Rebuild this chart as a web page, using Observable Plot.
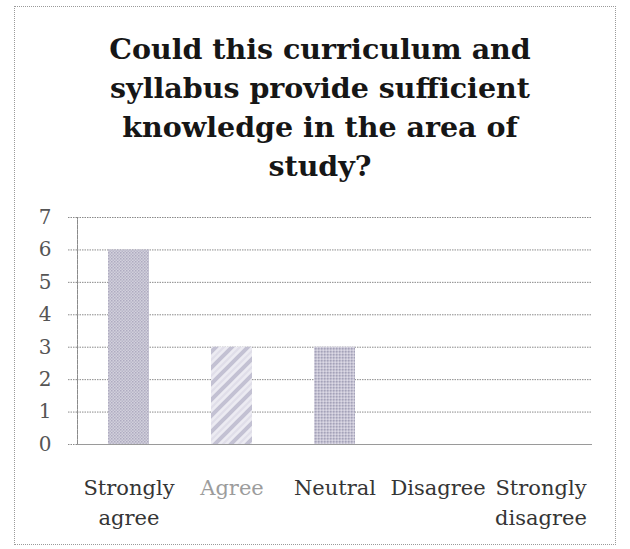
<!DOCTYPE html>
<html>
<head>
<meta charset="utf-8">
<script src="https://cdn.jsdelivr.net/npm/d3@7"></script>
<script src="https://cdn.jsdelivr.net/npm/@observablehq/plot@0.6"></script>
<style>
  html, body { margin: 0; padding: 0; background: #fff; }
  #page { position: relative; width: 630px; height: 549px; overflow: hidden; background: #fff; }
  #border { position: absolute; left: 14px; top: 6px; width: 602px; height: 539px; border: 1px dotted #9a9a9a; box-sizing: border-box; }
  #title { position: absolute; left: 5px; top: 30px; width: 630px; text-align: center;
           font-family: "DejaVu Serif", serif; font-weight: bold; font-size: 28.5px; line-height: 39px; color: #161616; }
  #chart { position: absolute; left: 0; top: 195px; }
</style>
</head>
<body>
<div id="page">
  <div id="border"></div>
  <div id="title">Could this curriculum and<br>syllabus provide sufficient<br>knowledge in the area of<br>study?</div>
  <div id="chart"></div>
</div>
<script>
const categories = ["Strongly agree", "Agree", "Neutral", "Disagree", "Strongly disagree"];
const values = [6, 3, 3, 0, 0];
const tickLabels = ["Strongly\nagree", "Agree", "Neutral", "Disagree", "Strongly\ndisagree"];
const yTicks = [0, 1, 2, 3, 4, 5, 6, 7];

const data = categories.map((c, i) => ({category: c, value: values[i], label: tickLabels[i]}));
const patterns = ["url(#p1)", "url(#p2)", "url(#p3)", "url(#p3)", "url(#p3)"];

const chart = Plot.plot({
  width: 630,
  height: 354,
  marginLeft: 77,
  marginRight: 38,
  marginTop: 22,
  marginBottom: 105,
  style: {fontFamily: "DejaVu Serif, serif", background: "transparent"},
  x: {domain: categories, paddingInner: 0.6, paddingOuter: 0.3, axis: null},
  y: {domain: [0, 7], axis: null},
  color: {domain: categories, range: patterns},
  marks: [
    Plot.gridY(yTicks, {stroke: "#8a8a8a", strokeOpacity: 1, strokeDasharray: "1.5,1"}),
    Plot.axisY(yTicks, {tickSize: 9, tickPadding: 17, stroke: "#8a8a8a", strokeDasharray: "1.5,1",
      fontSize: 20, fill: "#555", label: null, tickFormat: d => String(d)}),
    Plot.barY(data, {x: "category", y: "value", fill: "category"}),
    Plot.frame({anchor: "left", stroke: "#8a8a8a", strokeDasharray: "1.5,1"}),
    Plot.ruleY([0], {stroke: "#9a9a9a"}),
    Plot.text(data, {x: "category", text: "label", frameAnchor: "bottom", lineAnchor: "top",
      dy: 29, lineHeight: 1.43, fontSize: 21,
      fill: d => d.category === "Agree" ? "#9c9c9c" : "#353535"})
  ]
});

// SVG patterns mimicking the scanned bar textures
const svg = d3.select(chart);
const defs = svg.insert("defs", ":first-child");
const p1 = defs.append("pattern").attr("id", "p1").attr("patternUnits", "userSpaceOnUse").attr("width", 3).attr("height", 3);
p1.append("rect").attr("width", 3).attr("height", 3).attr("fill", "#d2d0dc");
p1.append("rect").attr("width", 1.5).attr("height", 1.5).attr("fill", "#aeabc0");
p1.append("rect").attr("x", 1.5).attr("y", 1.5).attr("width", 1.5).attr("height", 1.5).attr("fill", "#b8b6c8");

const p2 = defs.append("pattern").attr("id", "p2").attr("patternUnits", "userSpaceOnUse").attr("width", 16).attr("height", 16);
p2.append("rect").attr("width", 16).attr("height", 16).attr("fill", "#ecebf2");
p2.append("path").attr("d", "M-4,4 L4,-4 M0,16 L16,0 M12,20 L20,12").attr("stroke", "#c3c1d3").attr("stroke-width", 4);
p2.append("path").attr("d", "M-4,12 L12,-4 M4,20 L20,4").attr("stroke", "#e0dee9").attr("stroke-width", 2);

const p3 = defs.append("pattern").attr("id", "p3").attr("patternUnits", "userSpaceOnUse").attr("width", 3).attr("height", 3);
p3.append("rect").attr("width", 3).attr("height", 3).attr("fill", "#c6c4d4");
p3.append("rect").attr("width", 1.5).attr("height", 1.5).attr("fill", "#a5a2b9");
p3.append("rect").attr("x", 1.5).attr("y", 1.5).attr("width", 1.5).attr("height", 1.5).attr("fill", "#dcd9e5");

document.getElementById("chart").appendChild(chart);
</script>
</body>
</html>
